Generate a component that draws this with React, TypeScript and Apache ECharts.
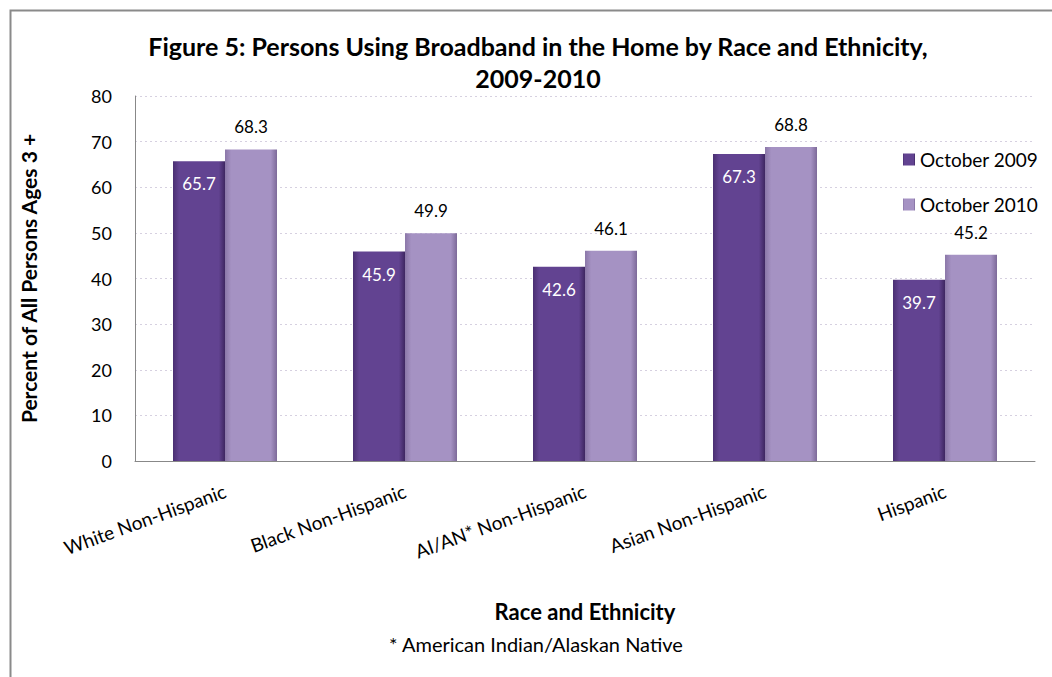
import React, { useEffect, useRef } from "react";
import * as echarts from "echarts";

const categories = [
  "White Non-Hispanic",
  "Black Non-Hispanic",
  "AI/AN* Non-Hispanic",
  "Asian Non-Hispanic",
  "Hispanic",
];
const oct2009 = [65.7, 45.9, 42.6, 67.3, 39.7];
const oct2010 = [68.3, 49.9, 46.1, 68.8, 45.2];
const seriesNames = ["October 2009", "October 2010"];

const FONT = "Lato, 'Open Sans', sans-serif";

export default function App() {
  const ref = useRef<HTMLDivElement>(null);
  useEffect(() => {
    if (!ref.current) return;
    const chart = echarts.init(ref.current, undefined, { renderer: "svg" });
    const grad = (c1: string, c2: string, c3: string) =>
      new echarts.graphic.LinearGradient(0, 0, 1, 0, [
        { offset: 0, color: c1 },
        { offset: 0.12, color: c2 },
        { offset: 0.88, color: c2 },
        { offset: 1, color: c3 },
      ]);
    chart.setOption({
      animation: false,
      textStyle: { fontFamily: FONT },
      title: {
        text: "Figure 5: Persons Using Broadband in the Home by Race and Ethnicity,\n2009-2010",
        left: 533,
        top: 25,
        textAlign: "center",
        textStyle: { fontSize: 25, fontWeight: "bold", color: "#000", lineHeight: 32, fontFamily: FONT },
      },
      legend: {
        orient: "vertical",
        left: 898,
        top: 145,
        itemGap: 26,
        itemWidth: 12,
        itemHeight: 12,
        icon: "rect",
        textStyle: { fontSize: 19, color: "#000", fontFamily: FONT },
        data: seriesNames,
      },
      grid: { left: 135, right: 17, top: 96, bottom: 216, containLabel: false },
      xAxis: {
        type: "category",
        data: categories,
        axisLine: { lineStyle: { color: "#888" } },
        axisTick: { show: false },
        axisLabel: {
          rotate: 20,
          interval: 0,
          fontSize: 19,
          color: "#000",
          margin: 29,
          fontFamily: FONT,
        },
        name: "Race and Ethnicity",
        nameLocation: "middle",
        nameGap: 139,
        nameTextStyle: { fontSize: 22, fontWeight: "bold", color: "#000", fontFamily: FONT },
      },
      yAxis: {
        type: "value",
        min: 0,
        max: 80,
        interval: 10,
        axisLine: { show: true, lineStyle: { color: "#888" } },
        axisTick: { show: false },
        axisLabel: { fontSize: 18, color: "#000", margin: 23, fontFamily: FONT },
        splitLine: { lineStyle: { color: "#d6d0e0", type: [2, 3] } },
        name: "Percent of All Persons Ages 3 +",
        nameLocation: "middle",
        nameGap: 96,
        nameTextStyle: { fontSize: 21, fontWeight: "bold", color: "#000", fontFamily: FONT },
      },
      series: [
        {
          name: seriesNames[0],
          type: "bar",
          data: oct2009,
          barWidth: 52,
          barGap: "0%",
          itemStyle: { color: grad("#4a2f72", "#624391", "#3e2661") },
          label: {
            show: true,
            position: "insideTop",
            distance: 14,
            color: "#fff",
            fontSize: 17,
            fontFamily: FONT,
            formatter: (p: any) => p.value.toFixed(1),
          },
        },
        {
          name: seriesNames[1],
          type: "bar",
          data: oct2010,
          barWidth: 52,
          itemStyle: { color: grad("#8b77a8", "#a592c3", "#7d6a99") },
          label: {
            show: true,
            position: "top",
            distance: 14,
            color: "#000",
            fontSize: 17,
            fontFamily: FONT,
            formatter: (p: any) => p.value.toFixed(1),
          },
        },
      ],
      graphic: [
        {
          type: "rect",
          left: 8,
          top: 8,
          shape: { x: 0, y: 0, width: 1060, height: 680 },
          style: { fill: "none", stroke: "#8a8a8a", lineWidth: 2 },
          silent: true,
          z: -1,
        },
        {
          type: "text",
          left: 389,
          top: 634,
          style: {
            text: "* American Indian/Alaskan Native",
            fontSize: 20,
            fill: "#000",
            fontFamily: FONT,
          },
        },
      ],
    });
    return () => chart.dispose();
  }, []);
  return <div ref={ref} style={{ width: 1052, height: 677, position: "absolute", left: 0, top: 0 }} />;
}
